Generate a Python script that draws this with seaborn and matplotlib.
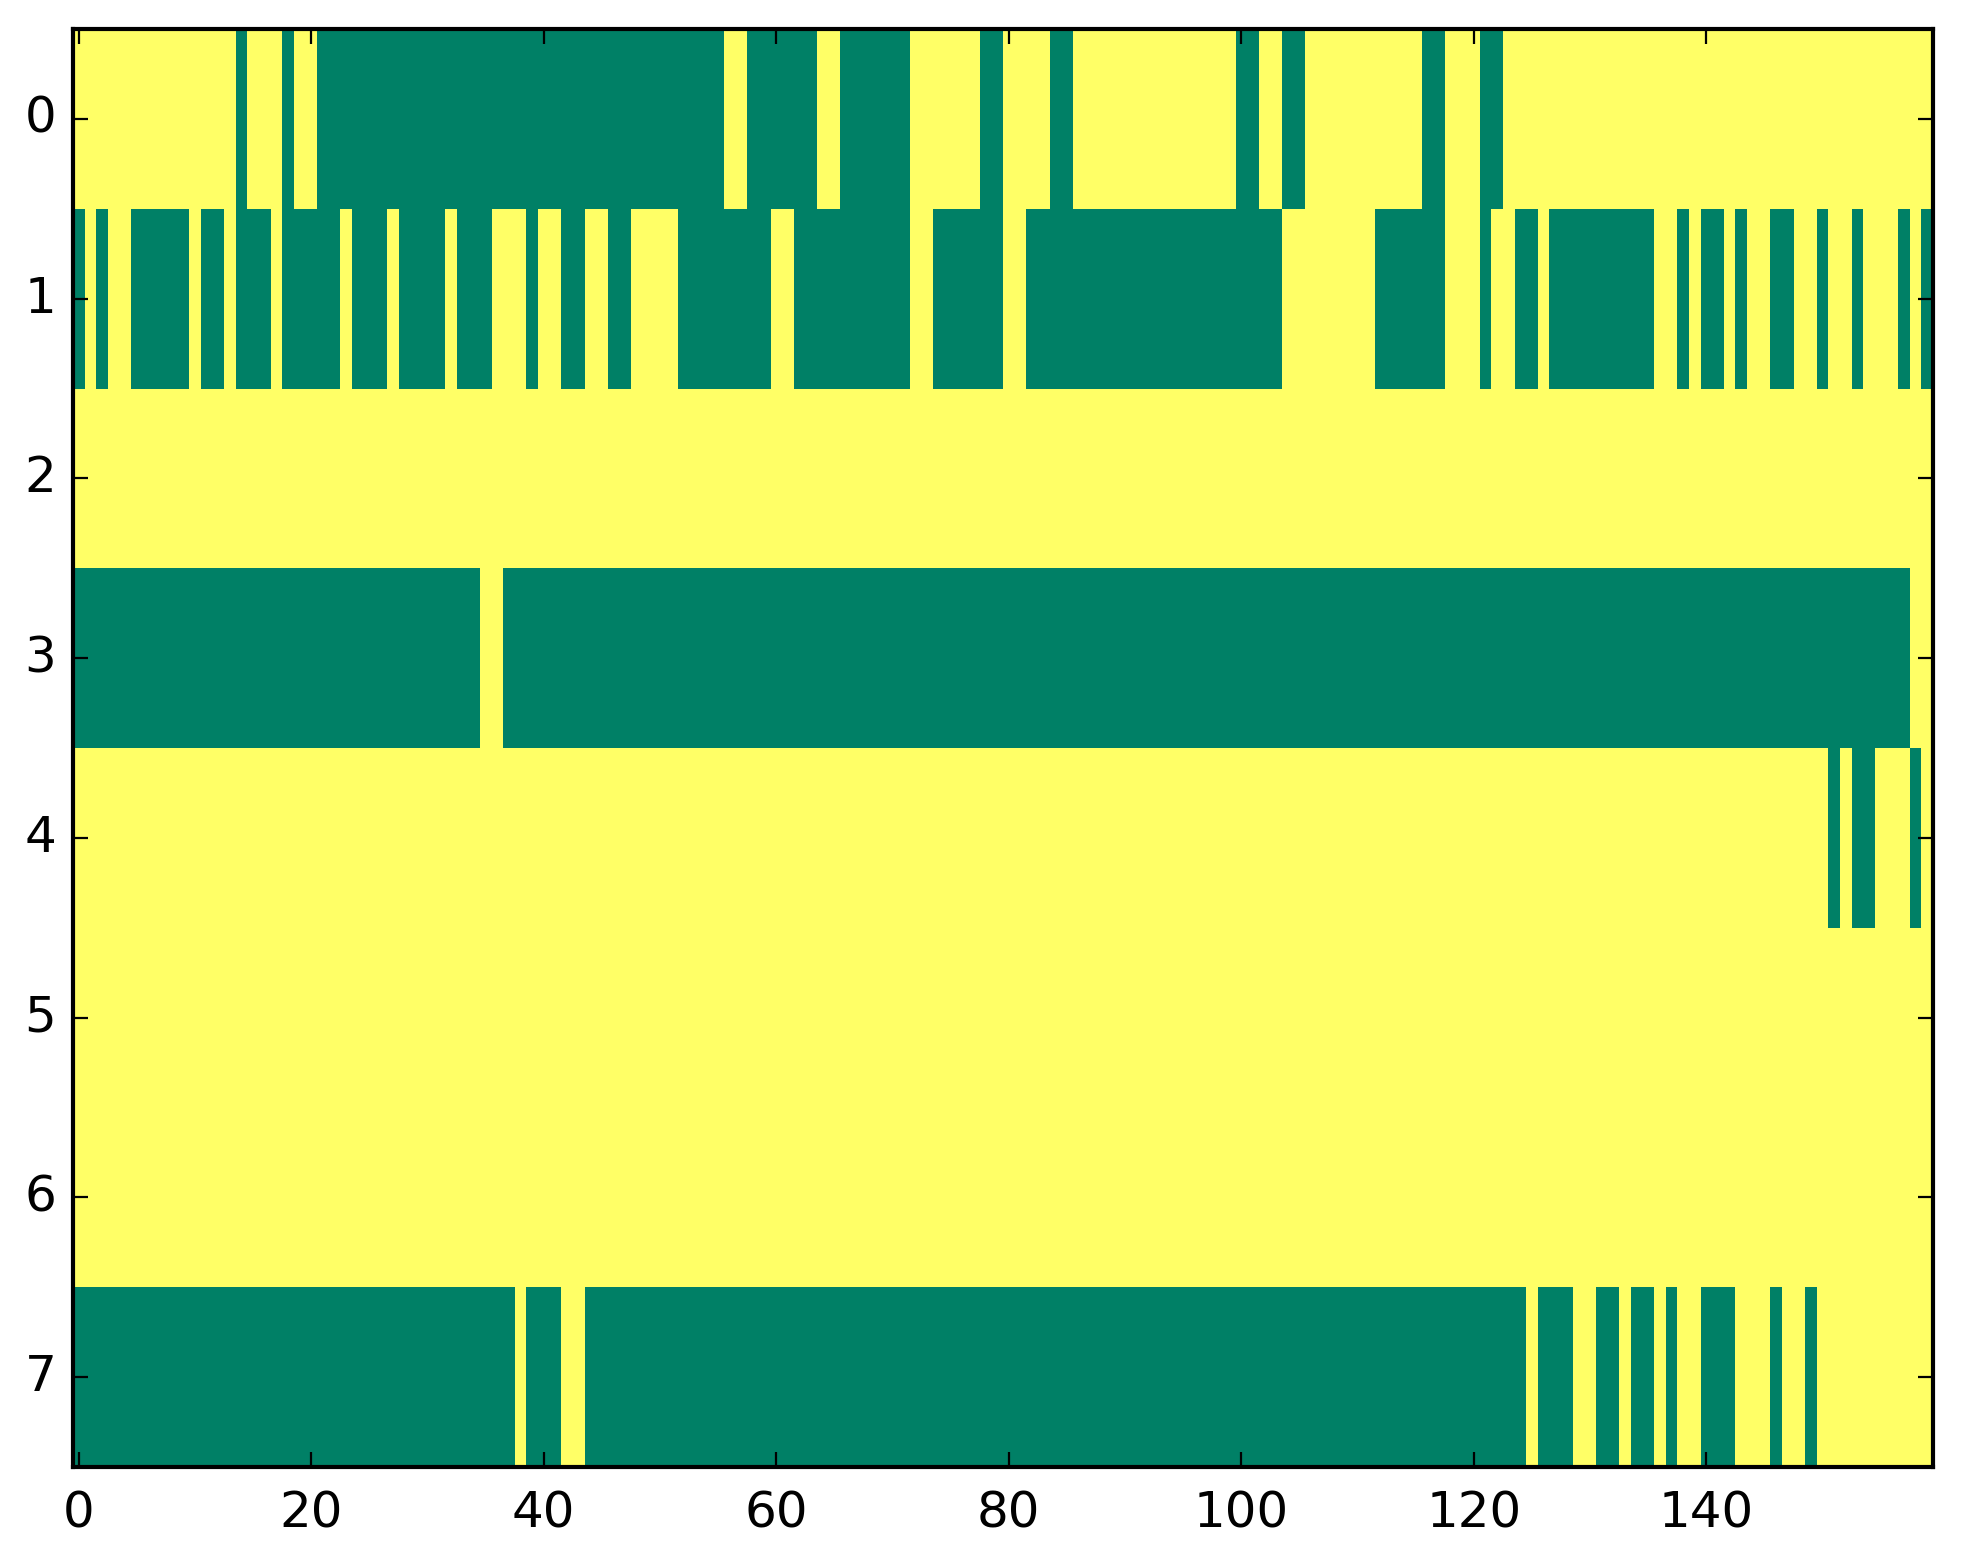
import numpy as np
import matplotlib
matplotlib.use("Agg")
import matplotlib.pyplot as plt
import seaborn as sns

# grid size
n_rows = 8
n_cols = 160

# green (0) runs per row, as (first column, last column); everything else is yellow (1)
row0_green = [(14, 14), (18, 18), (21, 55), (58, 63), (66, 71), (78, 79), (84, 85),
              (100, 101), (104, 105), (116, 117), (121, 122)]
row1_green = [(0, 0), (2, 2), (5, 9), (11, 12), (14, 16), (18, 22), (24, 26), (28, 31),
              (33, 35), (39, 39), (42, 43), (46, 47), (52, 59), (62, 71), (74, 79),
              (82, 103), (112, 117), (121, 121), (124, 125), (127, 135), (138, 138),
              (140, 141), (143, 143), (146, 147), (150, 150), (153, 153), (157, 157),
              (159, 159)]
row2_green = []
row3_green = [(0, 34), (37, 157)]
row4_green = [(151, 151), (153, 154), (158, 158)]
row5_green = []
row6_green = []
row7_green = [(0, 37), (39, 41), (44, 124), (126, 128), (131, 132), (134, 135),
              (137, 137), (140, 142), (146, 146), (149, 149)]

rows = [row0_green, row1_green, row2_green, row3_green,
        row4_green, row5_green, row6_green, row7_green]

x_ticks = [0, 20, 40, 60, 80, 100, 120, 140]
y_ticks = list(range(n_rows))

# build the matrix
data = np.ones((n_rows, n_cols))
for r, runs in enumerate(rows):
    for a, b in runs:
        data[r, a:b + 1] = 0

plt.rcParams['font.family'] = ['DejaVu Sans']
plt.rcParams['font.size'] = 18

fig = plt.figure(figsize=(1963 / 200, 1564 / 200), dpi=200)
ax = fig.add_axes([73 / 1963, 1 - 1467 / 1564, (1933 - 73) / 1963, (1467 - 29) / 1564])

sns.heatmap(data, cmap="summer", vmin=0, vmax=1, cbar=False, ax=ax)

ax.set_xticks([t + 0.5 for t in x_ticks])
ax.set_xticklabels([str(t) for t in x_ticks], rotation=0)
ax.set_yticks([t + 0.5 for t in y_ticks])
ax.set_yticklabels([str(t) for t in y_ticks], rotation=0)

for s in ax.spines.values():
    s.set_visible(True)
    s.set_color("black")
    s.set_linewidth(1.5)

ax.tick_params(axis='both', which='both', direction='in', length=5.4, width=0.8,
               top=True, right=True, bottom=True, left=True, color='black',
               labelsize=18)
ax.tick_params(axis='x', pad=8)
ax.tick_params(axis='y', pad=6)

fig.savefig("out.png", dpi=200)
